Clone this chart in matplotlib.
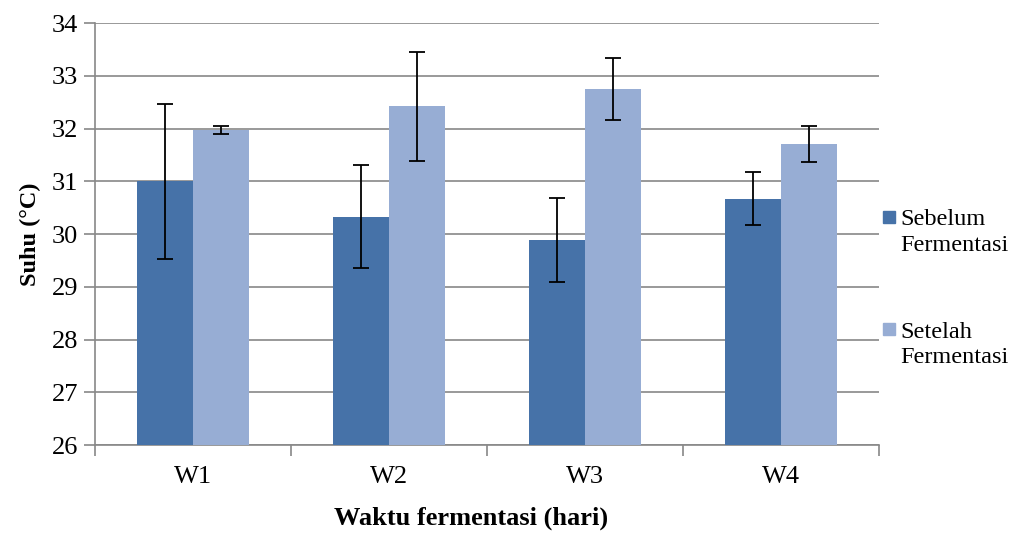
import matplotlib
matplotlib.use("Agg")
import matplotlib.pyplot as plt
import numpy as np
from matplotlib.patches import Rectangle

kategori = ["W1", "W2", "W3", "W4"]
sebelum = [31.00, 30.33, 29.89, 30.67]
sebelum_sd = [1.47, 0.98, 0.80, 0.50]
setelah = [31.97, 32.42, 32.75, 31.71]
setelah_sd = [0.08, 1.04, 0.58, 0.34]
label_seri = ["Sebelum\nFermentasi", "Setelah\nFermentasi"]

warna_sebelum = "#4672A8"
warna_setelah = "#97ADD4"

plt.rcParams["font.family"] = ["Liberation Serif", "DejaVu Serif"]

fig = plt.figure(figsize=(10.13, 5.33), dpi=100)
ax = fig.add_axes([0.0938, 0.1651, 0.7739, 0.7917])

x = np.arange(len(kategori))
lebar = 0.285
gaya_err = dict(ecolor="black", elinewidth=1.3, capsize=6, capthick=1.3)

ax.bar(x - lebar / 2, np.array(sebelum) - 26, lebar, bottom=26, color=warna_sebelum,
       yerr=sebelum_sd, error_kw=gaya_err, zorder=3)
ax.bar(x + lebar / 2, np.array(setelah) - 26, lebar, bottom=26, color=warna_setelah,
       yerr=setelah_sd, error_kw=gaya_err, zorder=3)

ax.set_xlim(-0.5, len(kategori) - 0.5)
ax.set_ylim(26, 34)
ax.set_yticks(range(26, 35))
ax.tick_params(axis="y", labelsize=19, length=8, width=1.2, color="#888888", pad=4)

# // label kategori di tengah, tanda tick di batas antar kategori
ax.set_xticks(x)
ax.set_xticklabels(kategori)
ax.set_xticks(np.arange(-0.5, len(kategori)), minor=True)
ax.tick_params(axis="x", which="major", length=0, labelsize=19, pad=15)
ax.tick_params(axis="x", which="minor", length=8, width=1.2, color="#888888")

ax.grid(axis="y", color="#888888", linewidth=1.2, zorder=0)
ax.set_axisbelow(True)
for sisi in ["top", "right"]:
    ax.spines[sisi].set_visible(False)
for sisi in ["left", "bottom"]:
    ax.spines[sisi].set_color("#888888")
    ax.spines[sisi].set_linewidth(1.2)

ax.set_xlabel("Waktu fermentasi (hari)", fontsize=19, fontweight="bold")
ax.xaxis.set_label_coords(0.48, -0.145)
ax.set_ylabel("Suhu (°C)", fontsize=17.5, fontweight="bold", labelpad=8)

# // legenda manual: kotak sejajar baris pertama label
for warna, teks, y0 in [(warna_sebelum, label_seri[0], 0.582), (warna_setelah, label_seri[1], 0.3715)]:
    fig.patches.append(Rectangle((0.8716, y0), 0.0118, 0.0225, transform=fig.transFigure,
                                 color=warna))
    fig.text(0.889, y0 + 0.025, teks, fontsize=17.5, va="top", ha="left", linespacing=1.3)

fig.savefig("out.png", dpi=100)
